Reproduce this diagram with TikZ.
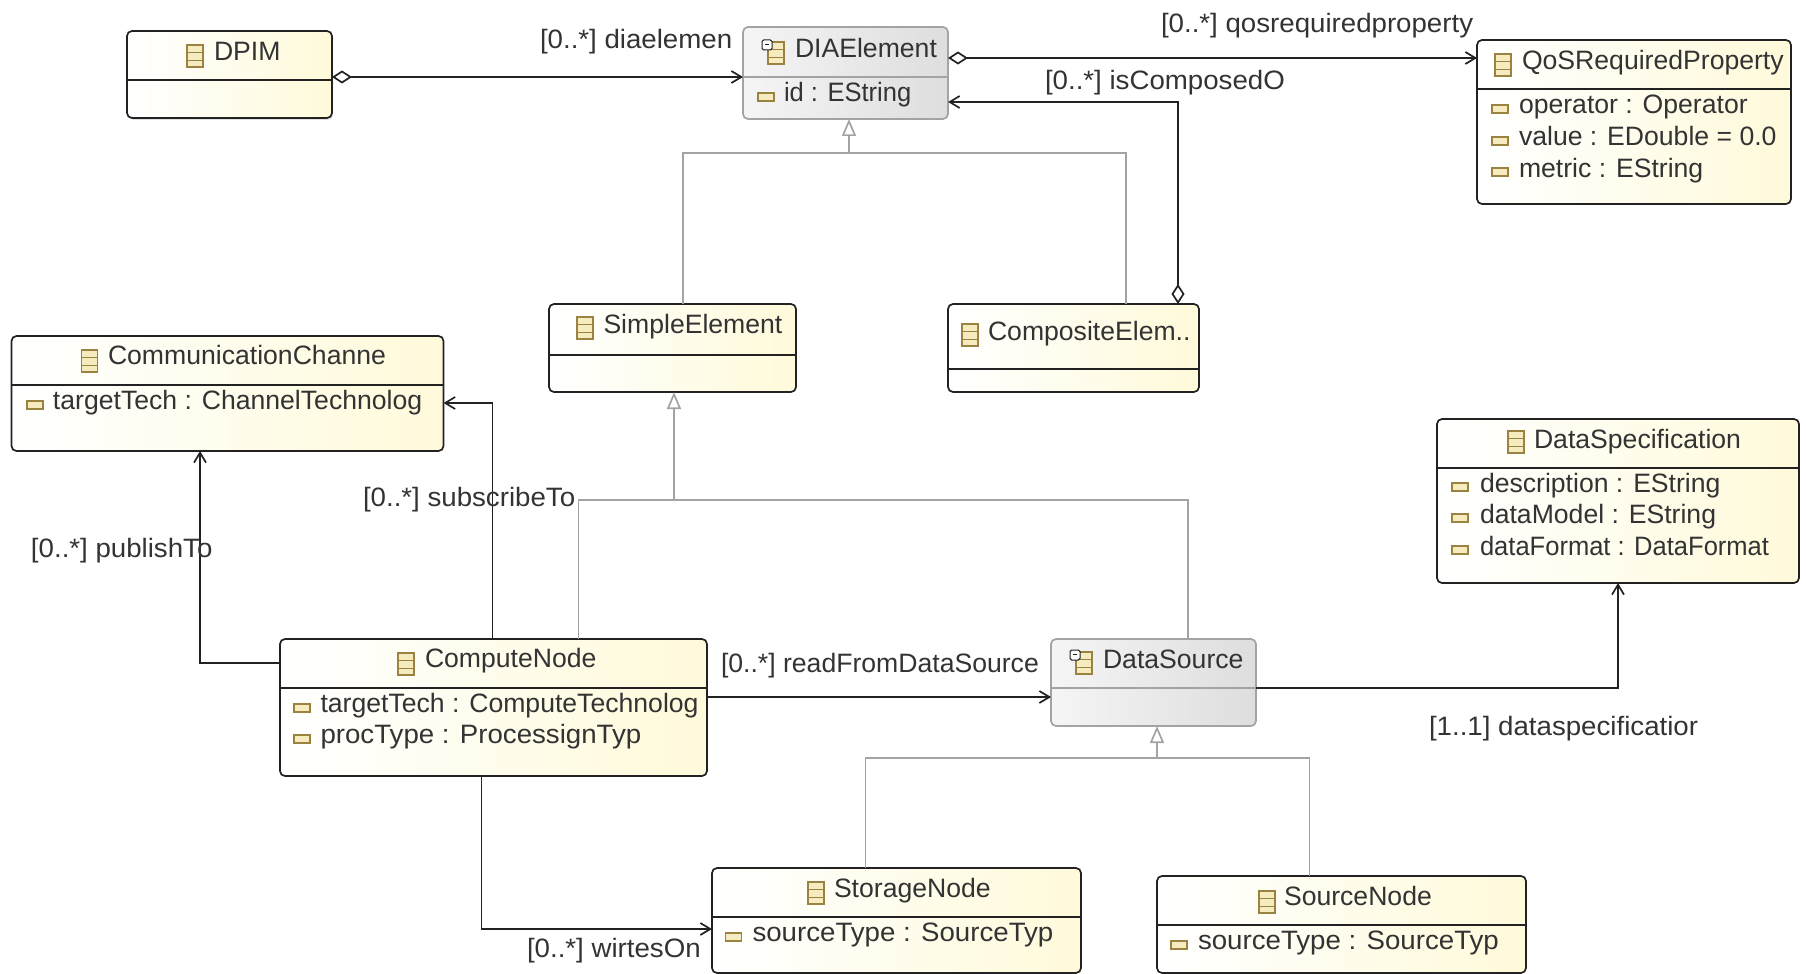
\documentclass[tikz,border=0pt]{standalone}
\usepackage{fontspec}
\setmainfont{Liberation Sans}
\newfontfamily\widefont[FakeStretch=1.04]{Liberation Sans}
\newfontfamily\narrowfont[FakeStretch=0.96]{Liberation Sans}
\usetikzlibrary{arrows.meta,shadows}
\definecolor{inkline}{HTML}{222222}
\definecolor{inktext}{HTML}{333333}
\definecolor{greyline}{HTML}{A3A3A3}
\definecolor{iconline}{HTML}{9A8340}
\definecolor{iconfill}{HTML}{F6EBBF}
\definecolor{paper}{HTML}{FFFADA}
\tikzset{
  box/.style={draw=inkline,line width=0.85pt,rounded corners=2.5pt,anchor=north west,inner sep=0pt,outer sep=0pt,
    shading angle=135,left color=white,right color=paper},
  abstractbox/.style={box,draw=greyline,left color=white!96!black,right color=white!87!black},
  sized/.style 2 args={minimum width=#1*0.5pt,minimum height=#2*0.5pt},
  label/.style={anchor=base west,inner sep=0pt,outer sep=0pt,text=inktext,font=\fontsize{13.3}{16}\selectfont},
  wide/.style={label,font=\fontsize{13.3}{16}\widefont},
  narrow/.style={label,font=\fontsize{13.3}{16}\narrowfont},
  lane/.style={draw=inkline,line width=0.85pt},
  abstractlane/.style={draw=greyline,line width=0.85pt},
  assoc/.style={draw=inkline,line width=0.85pt,-{Straight Barb[length=5pt,width=6pt]}},
  aggr/.style={assoc,{Diamond[length=10pt,width=6.5pt,fill=white]}-{Straight Barb[length=5pt,width=6pt]}},
  gen/.style={draw=greyline,line width=0.85pt,-{Triangle[length=8.5pt,width=7pt,fill=white]}},
  genline/.style={draw=greyline,line width=0.85pt},
  classicon/.pic={
    \filldraw[draw=iconline,fill=iconfill,line width=0.6pt] (-8,-11) rectangle (8,11);
    \draw[draw=iconline,line width=0.4pt] (-8,-4) -- (8,-4) (-8,4) -- (8,4);
  },
  abstractmark/.pic={
    \filldraw[draw=inkline,fill=white,line width=0.5pt,rounded corners=0.8pt] (-14,-13) rectangle (-4,-3);
    \draw[draw=inkline,line width=0.4pt] (-11,-9) -- (-7,-9);
  },
  attricon/.pic={
    \filldraw[draw=iconline,fill=iconfill,line width=0.6pt] (-8,-4) rectangle (8,4);
  }
}
\begin{document}
\begin{tikzpicture}[x=0.5pt,y=-0.5pt]
  \useasboundingbox (0,0) rectangle (1806,974);
  % classes
  \node[box,sized={205}{87},drop shadow={shadow xshift=0.6pt,shadow yshift=-0.9pt,opacity=0.25}] (dpim) at (127,31) {};
  \node[abstractbox,sized={205}{92}] (dia) at (743,27) {};
  \node[box,sized={314}{164}] (qos) at (1477,40) {};
  \node[box,sized={247}{88}] (simple) at (549,304) {};
  \node[box,sized={251}{88}] (composite) at (948,304) {};
  \node[box,sized={432}{115}] (comm) at (11.5,336) {};
  \node[box,sized={362}{164}] (spec) at (1437,419) {};
  \node[box,sized={427}{137}] (compute) at (280,639) {};
  \node[abstractbox,sized={205}{87}] (source) at (1051,639) {};
  \node[box,sized={369}{105}] (storage) at (712,868) {};
  \node[box,sized={369}{97}] (sourcenode) at (1157,876) {};
  % compartments
  \foreach \l/\r/\y in {127/332/80,1477/1791/89,549/796/355,948/1199/369,11.5/443.5/385,1437/1799/468,280/707/688,712/1081/917,1157/1526/925}
    \draw[lane] (\l,\y) -- (\r,\y);
  \foreach \l/\r/\y in {743/948/77,1051/1256/688}
    \draw[abstractlane] (\l,\y) -- (\r,\y);
  % icons
  \foreach \x/\y in {195/56,776/53,1503/65,585/328,970/335,89.5/361,1516/442,406/664,1084/663,816/893,1267/902}
    \pic at (\x,\y) {classicon};
  \pic at (776,53) {abstractmark};
  \pic at (1084,663) {abstractmark};
  \foreach \x/\y in {766/97,1500/109,1500/141,1500/172,35/405,302/708,302/739,1460/487,1460/518,1460/550,733.6/937,1179/945}
    \pic at (\x,\y) {attricon};
  % names
  \node[label] (dpimname) at (214,61) {DPIM};
  \node[label] (dianame) at (795,58) {DIAElement};
  \node[label] (qosname) at (1522,70) {QoSRequiredProperty};
  \node[label] (simplename) at (603.5,333) {SimpleElement};
  \node[label] (compositename) at (988,340) {CompositeElem..};
  \node[label] (commname) at (108,364) {CommunicationChanne};
  \node[label] (specname) at (1534,448) {DataSpecification};
  \node[label] (computename) at (425,667) {ComputeNode};
  \node[label] (sourcename) at (1103,668) {DataSource};
  \node[label] (storagename) at (834,897) {StorageNode};
  \node[label] (sourcenodename) at (1284,905) {SourceNode};
  % attributes
  \node[narrow] (diaid) at (784,102) {id : EString};
  \node[label] (qosop) at (1519,114) {operator : Operator};
  \node[label] (qosvalue) at (1519,146) {value : EDouble = 0.0};
  \node[label] (qosmetric) at (1519,177) {metric : EString};
  \node[label] (commtech) at (53,409) {targetTech : ChannelTechnolog};
  \node[label] (specdesc) at (1480,492) {description : EString};
  \node[label] (specmodel) at (1480,523) {dataModel : EString};
  \node[narrow] (specformat) at (1480,555) {dataFormat : DataFormat};
  \node[label] (computetech) at (320.5,712) {targetTech : ComputeTechnolog};
  \node[wide] (computeproc) at (320.5,743) {procType : ProcessignTyp};
  \node[wide] (storagetype) at (752.5,941) {sourceType : SourceTyp};
  \node[wide] (sourcetype) at (1198,949) {sourceType : SourceTyp};
  % helper points of the connectors
  \coordinate (diaLane) at (0,77);
  \coordinate (qosLane) at (0,58);
  \coordinate (composedLane) at (1178,102);
  \coordinate (diaBus) at (849,153);
  \coordinate (simpleBus) at (683,153);
  \coordinate (compositeBus) at (1126,153);
  \coordinate (elemBus) at (674,500);
  \coordinate (computeBus) at (578.5,500);
  \coordinate (sourceBus) at (1188,500);
  \coordinate (dataBus) at (1157,758);
  \coordinate (storageBus) at (865.5,758);
  \coordinate (sourcenodeBus) at (1309.5,758);
  \coordinate (publishLane) at (200,663);
  \coordinate (subscribeLane) at (492.6,403);
  \coordinate (readLane) at (0,697);
  \coordinate (specLane) at (1618,688);
  \coordinate (writesLane) at (481.5,929);
  % connectors
  \draw[aggr] (dpim.east |- diaLane) -- (dia.west |- diaLane);
  \draw[aggr] (dia.east |- qosLane) -- (qos.west |- qosLane);
  \draw[aggr] (composite.north -| composedLane) -- (composedLane) -- (dia.east |- composedLane);
  \draw[gen] (simple.north -| simpleBus) -- (simpleBus) -- (diaBus) -- (dia.south -| diaBus);
  \draw[genline] (composite.north -| compositeBus) -- (compositeBus) -- (diaBus);
  \draw[gen] (compute.north -| computeBus) -- (computeBus) -- (elemBus) -- (simple.south -| elemBus);
  \draw[genline] (source.north -| sourceBus) -- (sourceBus) -- (elemBus);
  \draw[gen] (storage.north -| storageBus) -- (storageBus) -- (dataBus) -- (source.south -| dataBus);
  \draw[genline] (sourcenode.north -| sourcenodeBus) -- (sourcenodeBus) -- (dataBus);
  \draw[assoc] (compute.west |- publishLane) -- (publishLane) -- (comm.south -| publishLane);
  \draw[assoc] (compute.north -| subscribeLane) -- (subscribeLane) -- (comm.east |- subscribeLane);
  \draw[assoc] (compute.east |- readLane) -- (source.west |- readLane);
  \draw[assoc] (source.east |- specLane) -- (specLane) -- (spec.south -| specLane);
  \draw[assoc] (compute.south -| writesLane) -- (writesLane) -- (storage.west |- writesLane);
  % roles
  \node[wide] (diarole) at (540,49) {[0..*] diaelemen};
  \node[wide] (qosrole) at (1161,33) {[0..*] qosrequiredproperty};
  \node[wide] (composedrole) at (1045,90) {[0..*] isComposedO};
  \node[wide] (subscriberole) at (363,506) {[0..*] subscribeTo};
  \node[wide] (publishrole) at (31,557) {[0..*] publishTo};
  \node[label] (readrole) at (721,672) {[0..*] readFromDataSource};
  \node[wide] (specrole) at (1429,735) {[1..1] dataspecificatior};
  \node[wide] (writesrole) at (527,957) {[0..*] wirtesOn};
\end{tikzpicture}
\end{document}
